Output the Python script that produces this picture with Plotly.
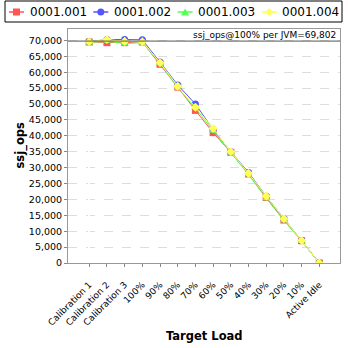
import plotly.graph_objects as go

categories = ["Calibration 1", "Calibration 2", "Calibration 3", "100%", "90%", "80%",
              "70%", "60%", "50%", "40%", "30%", "20%", "10%", "Active Idle"]
series_names = ["0001.001", "0001.002", "0001.003", "0001.004"]
s1 = [69500, 69300, 69300, 69500, 62500, 55300, 48000, 41000, 34800, 28000, 20600, 13500, 7000, 0]
s2 = [69600, 70300, 70300, 70200, 63200, 56000, 50000, 42000, 35000, 28500, 21000, 13900, 7100, 0]
s3 = [69300, 69800, 69000, 69300, 62900, 55000, 48800, 41500, 34700, 27800, 20300, 13400, 6900, 0]
s4 = [69600, 70300, 69700, 69600, 63000, 55600, 49000, 42300, 35000, 28200, 21000, 13900, 7100, 0]
ref_value = 69802
colors = ["#ff5555", "#5555ff", "#55ff55", "#ffff55"]
symbols = ["square", "circle", "triangle-up", "diamond"]

W = H = 348
L, R, T, B = 68, 8, 29, 85
PW, PH = W - L - R, H - T - B


def px(x):
    return (x - L) / PW


def py(y):
    return (H - B - y) / PH


x_idx = list(range(len(categories)))

fig = go.Figure()
for name, vals, c, sym in zip(series_names, [s1, s2, s3, s4], colors, symbols):
    fig.add_trace(go.Scatter(
        x=x_idx, y=vals, name=name, mode="lines+markers",
        line=dict(color=c, width=1),
        marker=dict(symbol=sym, size=7, color=c),
        showlegend=False,
    ))

fig.add_hline(y=ref_value, line=dict(color="#555555", width=1))

fig.add_annotation(
    x=1, xref="paper", y=ref_value, yref="y", xanchor="right", yanchor="bottom",
    text="ssj_ops@100% per JVM=69,802", showarrow=False,
    font=dict(family="DejaVu Sans", size=9, color="#000000"),
    xshift=-2, yshift=-1,
)

# axis titles
fig.add_annotation(
    x=px(204), y=py(336), xref="paper", yref="paper", text="<b>Target Load</b>",
    showarrow=False, font=dict(family="DejaVu Sans", size=11.5, color="#000000"),
    xanchor="center", yanchor="middle",
)
fig.add_annotation(
    x=px(19.5), y=py(145), xref="paper", yref="paper", text="<b>ssj_ops</b>",
    showarrow=False, textangle=-90,
    font=dict(family="DejaVu Sans", size=11.5, color="#000000"),
    xanchor="center", yanchor="middle",
)

# custom legend
fig.add_shape(type="rect", xref="paper", yref="paper",
              x0=px(5), x1=px(342), y0=py(22), y1=py(1),
              line=dict(color="#000000", width=1), fillcolor="white", layer="above")
ly = 12
for i, (name, c, sym) in enumerate(zip(series_names, colors, symbols)):
    x0 = 9 + i * 84.3
    xm = x0 + 7.5
    fig.add_shape(type="line", xref="paper", yref="paper",
                  x0=px(x0), x1=px(x0 + 15), y0=py(ly), y1=py(ly),
                  line=dict(color=c, width=1.5), layer="above")
    r = 3.5
    if sym == "square":
        fig.add_shape(type="rect", xref="paper", yref="paper",
                      x0=px(xm - r), x1=px(xm + r), y0=py(ly + r), y1=py(ly - r),
                      line=dict(width=0), fillcolor=c, layer="above")
    elif sym == "circle":
        fig.add_shape(type="circle", xref="paper", yref="paper",
                      x0=px(xm - r), x1=px(xm + r), y0=py(ly + r), y1=py(ly - r),
                      line=dict(width=0), fillcolor=c, layer="above")
    elif sym == "triangle-up":
        path = "M {} {} L {} {} L {} {} Z".format(
            px(xm - r - 0.5), py(ly + r), px(xm + r + 0.5), py(ly + r), px(xm), py(ly - r))
        fig.add_shape(type="path", xref="paper", yref="paper", path=path,
                      line=dict(width=0), fillcolor=c, layer="above")
    else:
        path = "M {} {} L {} {} L {} {} L {} {} Z".format(
            px(xm - r - 0.5), py(ly), px(xm), py(ly - r - 0.5),
            px(xm + r + 0.5), py(ly), px(xm), py(ly + r + 0.5))
        fig.add_shape(type="path", xref="paper", yref="paper", path=path,
                      line=dict(width=0), fillcolor=c, layer="above")
    fig.add_annotation(x=px(x0 + 18.5), y=py(ly), xref="paper", yref="paper",
                       text=name, showarrow=False, xanchor="left", yanchor="middle",
                       font=dict(family="DejaVu Sans", size=12, color="#000000"))

fig.update_layout(
    width=W, height=H,
    margin=dict(l=L, r=R, t=T, b=B),
    paper_bgcolor="white", plot_bgcolor="white",
    font=dict(family="DejaVu Sans", size=10, color="#000000"),
    showlegend=False,
    xaxis=dict(
        range=[-1.2, 14.17],
        tickmode="array", tickvals=x_idx, ticktext=categories,
        tickangle=-45, ticks="outside", ticklen=3, tickcolor="#888888",
        ticklabelstandoff=9,
        showgrid=False, showline=True, linecolor="#999999", mirror=True,
        tickfont=dict(size=9),
    ),
    yaxis=dict(
        range=[0, 73600], dtick=5000, tickformat=",d",
        ticks="outside", ticklen=3, tickcolor="#888888",
        showgrid=True, gridcolor="#dddddd", griddash="dash",
        showline=True, linecolor="#999999", mirror=True, zeroline=False,
        tickfont=dict(size=9.5),
    ),
)

fig.write_html("out.html")
